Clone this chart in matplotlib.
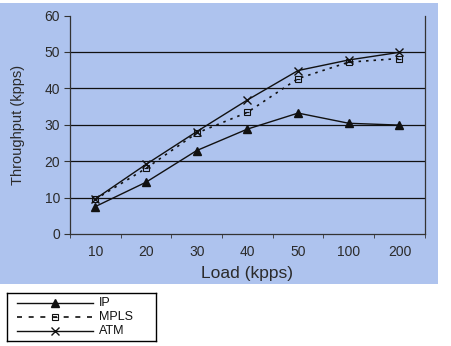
import matplotlib
matplotlib.use('Agg')
import matplotlib.pyplot as plt
from matplotlib.patches import Rectangle

# data
loads = ['10', '20', '30', '40', '50', '100', '200']
ip = [7.5, 14.2, 22.9, 28.8, 33.2, 30.4, 29.9]
mpls = [9.5, 18.0, 27.7, 33.4, 42.7, 47.2, 48.2]
atm = [9.6, 19.1, 28.1, 36.8, 44.9, 47.8, 49.9]
y_ticks = [0, 10, 20, 30, 40, 50, 60]
series_names = ['IP', 'MPLS', 'ATM']

plt.rcParams['font.family'] = ['Liberation Sans', 'DejaVu Sans']
txt = '#2b2b2b'
bg = '#aec3ee'
ink = '#111111'

fig = plt.figure(figsize=(4.51, 3.46), dpi=100)
fig.patches.append(Rectangle((0, 0.179), 0.971, 0.812, transform=fig.transFigure,
                             facecolor=bg, edgecolor='none', zorder=-10))

ax = fig.add_axes([0.155, 0.324, 0.787, 0.631])
ax.set_facecolor('none')
x = list(range(len(loads)))

ip_style = dict(color=ink, lw=1.0, marker='^', ms=6, mfc=ink)
mpls_style = dict(color=ink, lw=1.2, ls=(0, (1.5, 3)), marker='s', ms=5, mfc='none', mew=0.8)
atm_style = dict(color=ink, lw=1.0, marker='x', ms=6, mew=1.0)

ax.plot(x, ip, **ip_style)
ax.plot(x, mpls, **mpls_style)
ax.plot(x, mpls, ls='none', marker='_', ms=3, color=ink, mew=0.8)
ax.plot(x, atm, **atm_style)

ax.set_xlim(-0.5, len(loads) - 0.5)
ax.set_ylim(0, 60)
ax.set_yticks(y_ticks)
ax.set_xticks(x)
ax.set_xticklabels(loads)
ax.set_xticks([i - 0.5 for i in range(len(loads) + 1)], minor=True)
ax.tick_params(axis='x', which='major', length=0, pad=8, labelsize=10, labelcolor=txt)
ax.tick_params(axis='x', which='minor', length=3, direction='out', color='#333333')
ax.tick_params(axis='y', length=4, direction='out', labelsize=10, labelcolor=txt,
               color='#333333', pad=3)

for v in y_ticks[1:-1]:
    ax.axhline(v, color=ink, lw=0.9, zorder=0)

ax.spines['top'].set_visible(False)
for s in ['left', 'bottom', 'right']:
    ax.spines[s].set_color('#333333')
    ax.spines[s].set_linewidth(0.9)

ax.set_xlabel('Load (kpps)', fontsize=12.5, color=txt, labelpad=5)
ax.set_ylabel('Throughput (kpps)', fontsize=10.5, color=txt, labelpad=14)

# legend box below the chart, laid out in pixel units
lax = fig.add_axes([7 / 451, 5 / 346, 149 / 451, 48 / 346])
lax.set_xlim(0, 149)
lax.set_ylim(48, 0)
lax.set_xticks([])
lax.set_yticks([])
for s in lax.spines.values():
    s.set_color('black')
    s.set_linewidth(1.0)
rows = [9.5, 23.5, 37.5]
for row, name, style in zip(rows, series_names, [ip_style, mpls_style, atm_style]):
    st = dict(style)
    if name == 'MPLS':
        st['ls'] = (0, (3, 4))
    lax.plot([10, 86], [row, row], marker='none', color=ink, lw=st['lw'], ls=st.get('ls', '-'))
    lax.plot([48], [row], ls='none', **{k: v for k, v in st.items() if k not in ('ls', 'lw')})
    if name == 'MPLS':
        lax.plot([48], [row], ls='none', marker='_', ms=3, color=ink, mew=0.8)
    lax.text(92, row, name, fontsize=9, color=ink, va='center', ha='left')

fig.savefig('out.png', dpi=100)
